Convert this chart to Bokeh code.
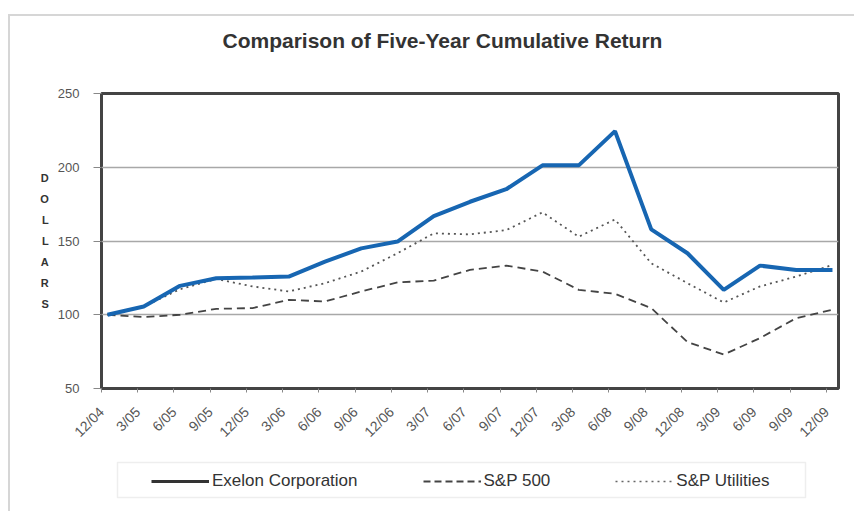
import math
from bokeh.plotting import figure
from bokeh.layouts import column
from bokeh.models import (ColumnDataSource, Legend, LegendItem, FixedTicker,
                          Title, Range1d, BoxAnnotation, CustomJSTickFormatter)
from bokeh.embed import file_html
from bokeh.resources import INLINE

# ---- data ----
quarters = ["12/04", "3/05", "6/05", "9/05", "12/05", "3/06", "6/06", "9/06",
            "12/06", "3/07", "6/07", "9/07", "12/07", "3/08", "6/08", "9/08",
            "12/08", "3/09", "6/09", "9/09", "12/09"]
exelon = [100, 105.6, 119.6, 124.8, 125.2, 125.9, 136.0, 145.0, 149.6, 166.9,
          176.6, 185.1, 201.3, 201.3, 224.5, 157.9, 141.7, 116.9, 133.3, 130.4,
          130.4]
sp500 = [100, 98.4, 100.0, 104.0, 104.5, 110.1, 109.0, 115.8, 121.9, 123.2,
         130.4, 133.3, 129.3, 116.9, 114.2, 104.5, 81.5, 73.0, 84.2, 97.7, 103.4]
utilities = [100, 105.6, 117.3, 124.3, 119.2, 115.8, 121.4, 129.3, 141.7,
             155.2, 154.5, 157.4, 169.4, 152.9, 164.6, 134.9, 121.4, 108.3,
             119.2, 125.9, 133.8]
series_names = ["Exelon Corporation", "S&P 500", "S&P Utilities"]
y_ticks = [50, 100, 150, 200, 250]

idx = list(range(len(quarters)))
src = ColumnDataSource(dict(x=idx, exelon=exelon, sp500=sp500, util=utilities))

FONT = "Liberation Sans"
BORDER = "#d6d6d6"
PAD = 0.166  # category padding inside the frame (fraction of a step)

MAIN_H = 449
LEG_H = 62

# ---------------- main chart ----------------
p = figure(width=854, height=MAIN_H, output_backend="svg",
           toolbar_location=None,
           x_range=(-PAD, len(quarters) - 1 + PAD), y_range=(50, 250),
           min_border_left=101, min_border_right=16, min_border_top=93,
           min_border_bottom=MAIN_H - 388, background_fill_color="white",
           border_fill_alpha=0)
p.styles = {"background":
            f"linear-gradient({BORDER},{BORDER}) 8px 14px / 2px 100% no-repeat,"
            f" linear-gradient({BORDER},{BORDER}) 8px 14px / 100% 2px no-repeat,"
            " white"}

# title (a spacer title keeps it away from the frame)
p.add_layout(Title(text=" ", text_font_size="22px"), "above")
p.title.text = "Comparison of Five-Year Cumulative Return"
p.title.align = "left"
p.title.text_font = FONT
p.title.text_font_size = "21px"
p.title.text_font_style = "bold"
p.title.text_color = "#333333"
p.title.offset = 121

# frame
p.outline_line_color = "#444444"
p.outline_line_width = 3

# axes: tick marks sit a little left of each category point, as in the original
p.xaxis.ticker = FixedTicker(ticks=[i - PAD for i in idx])
p.xaxis.formatter = CustomJSTickFormatter(
    args=dict(labels=quarters),
    code="return labels[Math.round(tick + 0.166)] || '';")
p.xaxis.major_label_orientation = math.pi / 4
p.xaxis.major_label_text_font = FONT
p.xaxis.major_label_text_font_size = "14px"
p.xaxis.major_label_text_color = "#555555"
p.xaxis.axis_line_color = None
p.xaxis.major_tick_out = 4
p.xaxis.major_tick_in = 0
p.xaxis.major_tick_line_color = "#888888"
p.xaxis.minor_tick_line_color = None
p.xaxis.major_label_standoff = 17

p.yaxis.ticker = FixedTicker(ticks=y_ticks)
p.yaxis.major_label_text_font = FONT
p.yaxis.major_label_text_font_size = "13px"
p.yaxis.major_label_text_color = "#555555"
p.yaxis.axis_line_color = None
p.yaxis.major_tick_out = 8
p.yaxis.major_tick_in = 0
p.yaxis.major_tick_line_color = "#888888"
p.yaxis.minor_tick_line_color = None
p.yaxis.major_label_standoff = 14
p.yaxis.axis_label = "D\nO\nL\nL\nA\nR\nS"
p.yaxis.axis_label_orientation = "horizontal"
p.yaxis.axis_label_text_font = FONT
p.yaxis.axis_label_text_font_size = "11px"
p.yaxis.axis_label_text_font_style = "bold"
p.yaxis.axis_label_text_color = "#333333"
p.yaxis.axis_label_text_line_height = 1.75
p.yaxis.axis_label_standoff = 6

# grid
p.xgrid.grid_line_color = None
p.ygrid.grid_line_color = "#a8a8a8"
p.ygrid.grid_line_width = 1.5

# lines
p.line("x", "util", source=src, line_color="#555555", line_width=1.8,
       line_dash="2 4")
p.line("x", "sp500", source=src, line_color="#444444", line_width=1.8,
       line_dash="8 5")
p.line("x", "exelon", source=src, line_color="#1766b2", line_width=4)

# ---------------- legend strip ----------------
# its frame is aligned with the main frame (page x 101..838)
lg = figure(width=854, height=LEG_H, output_backend="svg",
            toolbar_location=None,
            x_range=Range1d(101, 838), y_range=Range1d(MAIN_H + LEG_H, MAIN_H),
            x_axis_location=None, y_axis_location=None,
            min_border_left=0, min_border_right=0, min_border_top=0,
            min_border_bottom=0, border_fill_alpha=0,
            background_fill_alpha=0)
lg.styles = {"background":
             f"linear-gradient({BORDER},{BORDER}) 8px 0px / 2px 100% no-repeat,"
             " white"}
lg.outline_line_color = None
lg.grid.grid_line_color = None
lg.extra_y_ranges = {"hidden": Range1d(1000, 1001)}

# legend proxies: the series drawn on a range that keeps them out of view
r1 = lg.line("x", "exelon", source=src, y_range_name="hidden",
             line_color="#333333", line_width=3)
r2 = lg.line("x", "sp500", source=src, y_range_name="hidden",
             line_color="#444444", line_width=1.8, line_dash="7 4")
r3 = lg.line("x", "util", source=src, y_range_name="hidden",
             line_color="#666666", line_width=1.5, line_dash="2 4")

# legend frame (page coordinates)
lg.add_layout(BoxAnnotation(left=117, right=805, top=462, bottom=497,
                            fill_alpha=0, line_color="#c8c8c8",
                            line_width=1.5))

legend = Legend(items=[LegendItem(label=n, renderers=[r])
                       for n, r in zip(series_names, [r1, r2, r3])],
                orientation="horizontal", location=(50, 20))
legend.label_text_font = FONT
legend.label_text_font_size = "17px"
legend.label_text_color = "#333333"
legend.glyph_width = 58
legend.label_standoff = 3
legend.spacing = 65
legend.padding = 7
legend.margin = 0
legend.border_line_color = None
legend.background_fill_alpha = 0
lg.add_layout(legend, "center")

layout = column(p, lg, spacing=0)
open("out.html", "w").write(file_html(layout, INLINE))
